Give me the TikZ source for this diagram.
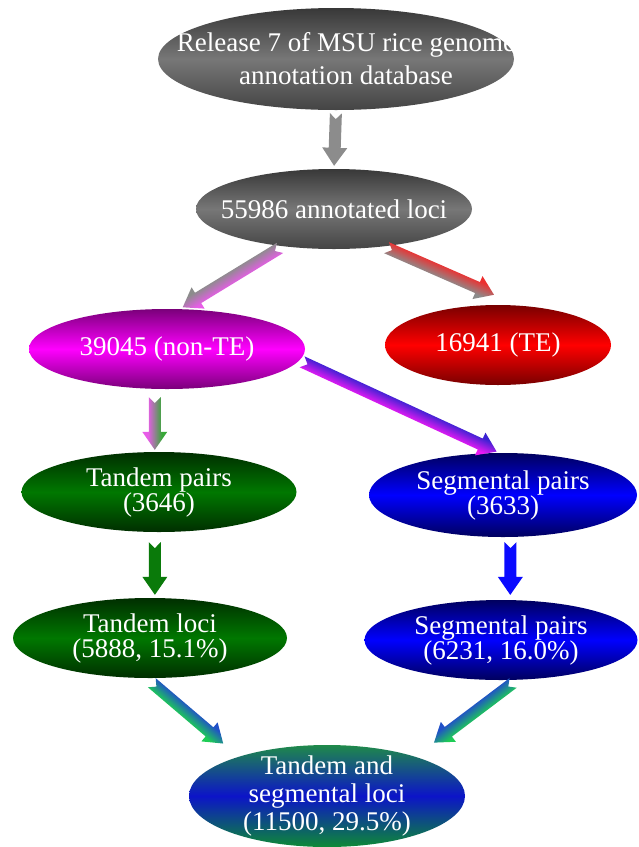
\documentclass[tikz,border=0pt]{standalone}
\usepackage{fontspec}
\setmainfont{Liberation Serif}
\usetikzlibrary{shapes.geometric,calc}

\definecolor{grayTop}{HTML}{383838}
\definecolor{grayMid}{HTML}{777777}
\definecolor{grayBot}{HTML}{444444}
\definecolor{magTop}{HTML}{7A007A}
\definecolor{magMid}{HTML}{FF00FF}
\definecolor{redTop}{HTML}{780000}
\definecolor{redMid}{HTML}{FF0000}
\definecolor{grnTop}{HTML}{002E00}
\definecolor{grnMid}{HTML}{007800}
\definecolor{bluTop}{HTML}{00005E}
\definecolor{bluMid}{HTML}{0000FF}
\definecolor{mixTop}{HTML}{1F8A4A}
\definecolor{mixMid}{HTML}{0C14C8}
\definecolor{mixBot}{HTML}{0E8A36}
\definecolor{arrGray}{HTML}{8C8C8C}
\definecolor{arrPink}{HTML}{E85CE8}
\definecolor{arrRed}{HTML}{EC3030}
\definecolor{arrGreen}{HTML}{38A838}
\definecolor{arrViolet}{HTML}{3A22D2}
\definecolor{arrMag}{HTML}{EA1AF4}
\definecolor{arrDkGreen}{HTML}{0A7A0A}
\definecolor{arrBlue}{HTML}{0A0AFF}
\definecolor{arrSky}{HTML}{2050C8}
\definecolor{arrLime}{HTML}{1ECC55}
\colorlet{arrA}{black}
\colorlet{arrB}{black}

% two colours across the width of an arrow
\pgfdeclareverticalshading[arrA,arrB]{twotone}{100bp}{%
    color(0bp)=(arrB); color(36bp)=(arrB); color(64bp)=(arrA); color(100bp)=(arrA)}

\tikzset{
  bubble/.style={ellipse, inner sep=0pt, minimum height=80pt},
  txt/.style={text=white, align=center, font=\fontsize{27}{25}\selectfont},
  graybub/.style={bubble, top color=grayTop, bottom color=grayBot, middle color=grayMid},
  magbub/.style={bubble, top color=magTop, bottom color=magTop, middle color=magMid},
  redbub/.style={bubble, top color=redTop, bottom color=redTop, middle color=redMid},
  grnbub/.style={bubble, top color=grnTop, bottom color=grnTop, middle color=grnMid},
  blubub/.style={bubble, top color=bluTop, bottom color=bluTop, middle color=bluMid},
  mixbub/.style={bubble, top color=mixTop, bottom color=mixBot, middle color=mixMid},
  twoarr/.style 2 args={/utils/exec={\colorlet{arrA}{#1}\colorlet{arrB}{#2}},
    shade, shading=twotone, shading angle=0}
}

\begin{document}
\begin{tikzpicture}[x=1pt, y=1pt]
    % block arrow: style, from, to, gap at tail, gap at tip
    \def\barrow#1#2#3#4#5{%
        \path ($(#2)!#4!(#3)$) coordinate (bt) ($(#3)!#5!(#2)$) coordinate (bh);
        \pgfpointdiff{\pgfpointanchor{bt}{center}}{\pgfpointanchor{bh}{center}}%
        \pgfgetlastxy{\arrdx}{\arrdy}%
        \pgfmathsetmacro\arrang{atan2(\arrdy,\arrdx)}%
        \pgfmathsetmacro\arrlen{veclen(\arrdx,\arrdy)}%
        \begin{scope}[transform canvas={shift={(bt)}, rotate=\arrang}]
            \path[#1] (0,6) -- (6,0) -- (0,-6) -- (\arrlen-18,-6) -- (\arrlen-18,-12.5)
                -- (\arrlen,0) -- (\arrlen-18,12.5) -- (\arrlen-18,6) -- cycle;
        \end{scope}
    }

    \useasboundingbox (0,0) rectangle (638,-847);

    % top
    \node[graybub, minimum width=356pt, minimum height=102pt,
        label={[txt, xshift=10pt, font=\fontsize{27}{33}\selectfont]center:Release 7 of MSU rice genome\\annotation database}]
        (release) at (336,-59) {};
    \node[graybub, minimum width=276pt,
        label={[txt]center:55986 annotated loci}] (loci) at (334,-209) {};

    % split
    \node[magbub, minimum width=276pt,
        label={[txt]center:39045 (non-TE)}] (nonte) at (167,-349) {};
    \node[redbub, minimum width=226pt,
        label={[txt]center:16941 (TE)}] (te) at (498,-345) {};

    % pairs
    \node[grnbub, minimum width=275pt,
        label={[txt]center:Tandem pairs\\(3646)}] (tpairs) at (159,-492) {};
    \node[blubub, minimum width=268pt, minimum height=84pt,
        label={[txt]center:Segmental pairs\\(3633)}] (spairs) at (503,-495) {};

    % loci
    \node[grnbub, minimum width=274pt,
        label={[txt]center:Tandem loci\\(5888, 15.1\%)}] (tloci) at (150,-638) {};
    \node[blubub, minimum width=273pt,
        label={[txt]center:Segmental pairs\\(6231, 16.0\%)}] (sloci) at (501,-640) {};

    % bottom
    \node[mixbub, minimum width=276pt, minimum height=102pt,
        label={[txt, font=\fontsize{27}{28}\selectfont]center:Tandem and\\segmental loci\\(11500, 29.5\%)}]
        (both) at (327,-796) {};

    \coordinate (teTop) at ($(te.north)+(-4,10)$);

    \barrow{fill=arrGray}{release.south}{loci.north}{3pt}{3pt}
    \barrow{twoarr={arrPink}{arrGray}}{loci.216}{nonte.72}{3pt}{3pt}
    \barrow{twoarr={arrRed}{arrGray}}{loci.-37}{teTop}{3pt}{0pt}
    \barrow{twoarr={arrGreen}{arrPink}}{nonte.-107}{tpairs.96}{8pt}{2pt}
    \barrow{twoarr={arrViolet}{arrMag}}{nonte.-5}{spairs.95}{3pt}{3pt}
    \barrow{fill=arrDkGreen}{tpairs.-96}{tloci.83}{10pt}{3pt}
    \barrow{fill=arrBlue}{spairs.-80}{sloci.77}{5pt}{5pt}
    \barrow{twoarr={arrSky}{arrLime}}{tloci.-95}{both.156}{7pt}{20pt}
    \barrow{twoarr={arrLime}{arrSky}}{sloci.-68}{both.24}{5pt}{23pt}
\end{tikzpicture}
\end{document}
